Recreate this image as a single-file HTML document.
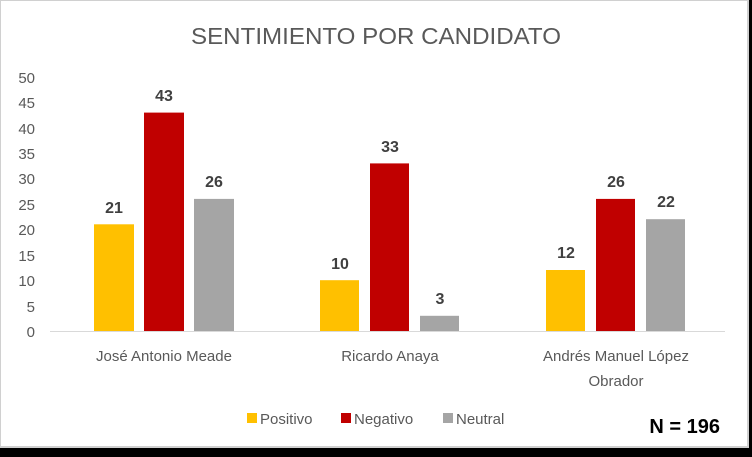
<!DOCTYPE html>
<html><head><meta charset="utf-8"><style>
body{margin:0;width:752px;height:457px;background:#000;overflow:hidden}
svg{display:block}
text{font-family:"Liberation Sans",sans-serif}
</style></head><body>
<svg width="752" height="457" viewBox="0 0 752 457">
<rect x="0" y="0" width="748" height="447" fill="#fff" stroke="#d0d0d0" stroke-width="2"/>
<text x="376" y="44" font-size="23" fill="#595959" text-anchor="middle" textLength="370" lengthAdjust="spacingAndGlyphs">SENTIMIENTO POR CANDIDATO</text>
<g stroke="#d9d9d9" stroke-width="1">
<line x1="50" x2="725" y1="331.5" y2="331.5"/>
</g>
<g font-size="15" fill="#595959" text-anchor="end">
<text x="35" y="337">0</text><text x="35" y="312">5</text><text x="35" y="286">10</text><text x="35" y="261">15</text><text x="35" y="235">20</text><text x="35" y="210">25</text><text x="35" y="184">30</text><text x="35" y="159">35</text><text x="35" y="134">40</text><text x="35" y="108">45</text><text x="35" y="83">50</text>
</g>
<g>
<rect x="94" y="224.3" width="40" height="106.7" fill="#ffc000"/>
<rect x="144" y="112.6" width="40" height="218.4" fill="#c00000"/>
<rect x="194" y="198.9" width="40" height="132.1" fill="#a5a5a5"/>
<rect x="320" y="280.2" width="39" height="50.8" fill="#ffc000"/>
<rect x="370" y="163.4" width="39" height="167.6" fill="#c00000"/>
<rect x="420" y="315.8" width="39" height="15.2" fill="#a5a5a5"/>
<rect x="546" y="270" width="39" height="61" fill="#ffc000"/>
<rect x="596" y="198.9" width="39" height="132.1" fill="#c00000"/>
<rect x="646" y="219.2" width="39" height="111.8" fill="#a5a5a5"/>
</g>
<g font-size="16" font-weight="bold" fill="#404040" text-anchor="middle">
<text x="114" y="213">21</text><text x="164" y="101">43</text><text x="214" y="187">26</text>
<text x="340" y="269">10</text><text x="390" y="152">33</text><text x="440" y="304">3</text>
<text x="566" y="258">12</text><text x="616" y="187">26</text><text x="666" y="207">22</text>
</g>
<g font-size="15" fill="#595959" text-anchor="middle">
<text x="164" y="361">José Antonio Meade</text>
<text x="390" y="361">Ricardo Anaya</text>
<text x="616" y="361">Andrés Manuel López</text>
<text x="616" y="386">Obrador</text>
</g>
<g font-size="15" fill="#595959">
<rect x="247" y="413" width="10" height="10" fill="#ffc000"/><text x="260" y="424">Positivo</text>
<rect x="341" y="413" width="10" height="10" fill="#c00000"/><text x="354" y="424">Negativo</text>
<rect x="443" y="413" width="10" height="10" fill="#a5a5a5"/><text x="456" y="424">Neutral</text>
</g>
<text x="720" y="433" font-size="20" font-weight="bold" fill="#000" text-anchor="end">N = 196</text>
</svg>
</body></html>
